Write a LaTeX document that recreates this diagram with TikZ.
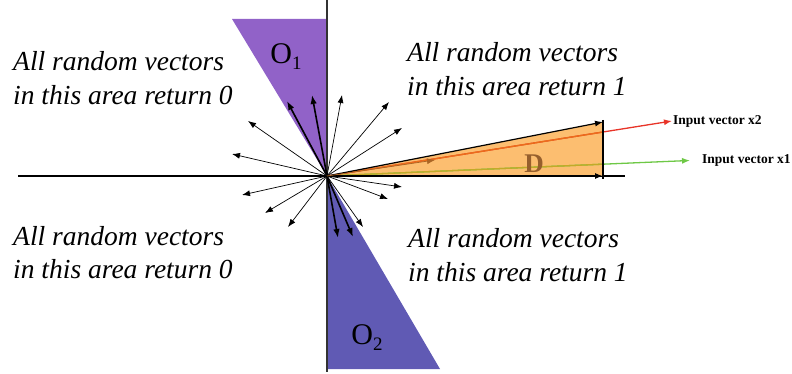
\documentclass[tikz,border=0pt]{standalone}
\usepackage{fontspec}
\setmainfont{Liberation Serif}
\usetikzlibrary{arrows.meta}
\definecolor{oneviolet}{RGB}{145,98,200}
\definecolor{twoviolet}{RGB}{96,90,180}
\definecolor{dfill}{RGB}{252,190,112}
\definecolor{dbrown}{RGB}{150,95,45}
\definecolor{xred}{RGB}{232,52,40}
\definecolor{xgreen}{RGB}{110,200,70}
\definecolor{xredin}{RGB}{235,110,25}
\definecolor{xgreenin}{RGB}{195,170,40}

\begin{document}
\begin{tikzpicture}[x=1pt, y=-1pt, vec/.style={-{Latex[length=8pt,width=6pt]}, line width=0.7pt}, boldvec/.style={-{Latex[length=9pt,width=6.5pt]}, line width=1.6pt}, area/.style={font=\fontsize{27.5}{33.5}\selectfont\itshape, align=left, anchor=base west, inner sep=0pt}, inlabel/.style={font=\fontsize{13.5}{15}\selectfont\bfseries, anchor=west, inner sep=1pt}, region/.style={font=\fontsize{30}{30}\selectfont}]

\useasboundingbox (0,0) rectangle (792,374);
\coordinate (o) at (327,176);

\fill[oneviolet] (232,19) -- (327,19) -- (o) -- cycle; \node[region] (o1) at (286,57) {O\raisebox{-6pt}{\fontsize{19}{19}\selectfont 1}};
\fill[twoviolet] (o) -- (327,369) -- (440,369) -- cycle; \node[region] (o2) at (367,338) {O\raisebox{-6pt}{\fontsize{19}{19}\selectfont 2}};
\draw[line width=1.5pt] (18,176) -- (625,176);
\draw[line width=1.2pt, black!80] (327,0) -- (327,372);

% random vectors round the origin
\foreach \tx/\ty in {248/121, 232/154, 342/95, 389/102, 402/128, 402/187, 388/199, 242/195, 265/213, 288/227, 363/227}
  \draw[vec] (o) -- (\tx,\ty);
\foreach \tx/\ty in {287/101, 312/95, 338/238, 353/237}
  \draw[boldvec] (o) -- (\tx,\ty);

% input vectors and the area D between them
\node[inlabel] (x2) at (672,121) {Input vector x2};
\node[inlabel] (x1) at (701,160) {Input vector x1};
\fill[dfill] (o) -- (603,122) -- (603,176) -- cycle;
\draw[xred, line width=1.3pt, -{Latex[length=8pt,width=6pt]}] (o) -- (x2.west);
\draw[xgreen, line width=1.3pt, -{Latex[length=8pt,width=6pt]}, shorten >=11pt] (o) -- (x1.west);
\begin{scope}
  \clip (o) -- (603,122) -- (603,176) -- cycle;
  \draw[xredin, line width=1.3pt] (o) -- (x2.west);
  \draw[xgreenin, line width=1.3pt] (o) -- (x1.west);
\end{scope}
\draw[vec, line width=1.2pt] (o) -- (603,122);
\draw[vec, line width=1.2pt] (o) -- (603,176);
\draw[line width=1.2pt] (603,120) -- (603,179);
\draw[vec, dbrown!80!orange] (o) -- (435,160);
\node[font=\fontsize{27}{27}\selectfont\bfseries, text=dbrown] (d) at (534,164) {D};

\node[area] (tl) at (13,104.5) {All random vectors\\in this area return 0};
\node[area] (tr) at (407,95.5) {All random vectors\\in this area return 1};
\node[area] (bl) at (13,278.5) {All random vectors\\in this area return 0};
\node[area] (br) at (408,281) {All random vectors\\in this area return 1};
\end{tikzpicture}
\end{document}
